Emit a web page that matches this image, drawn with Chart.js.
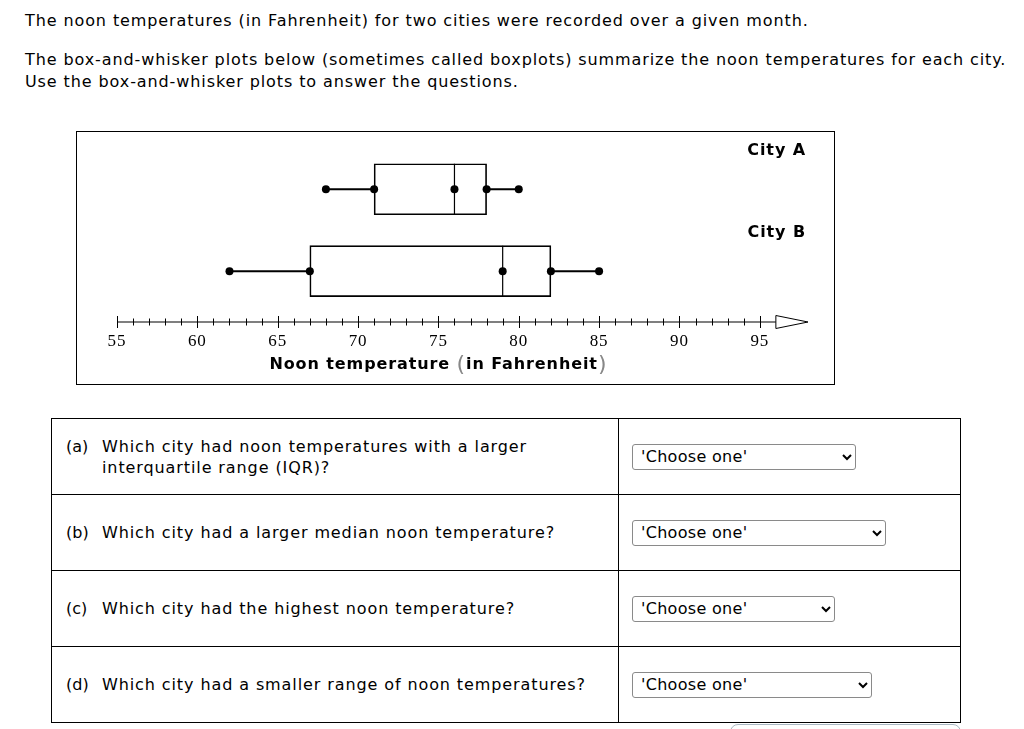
<!DOCTYPE html>
<html>
<head>
<meta charset="utf-8">
<script src="https://cdn.jsdelivr.net/npm/chart.js@4.4.1/dist/chart.umd.min.js"></script>
<style>
  body { margin: 0; background: #fff; color: #000; font-family: "DejaVu Sans", Verdana, sans-serif; font-size: 16px; letter-spacing: 0.9px; width: 1024px; height: 729px; position: relative; overflow: hidden; }
  .p { position: absolute; left: 25px; margin: 0; line-height: 22px; white-space: nowrap; }
  #box { position: absolute; left: 76px; top: 131px; width: 757px; height: 252px; border: 1px solid #000; }
  #box canvas { display: block; }
  table { position: absolute; left: 51px; top: 418px; border-collapse: collapse; width: 910px; }
  td { border: 1px solid #000; height: 75px; padding: 0; vertical-align: middle; }
  td.q { width: 552px; padding-left: 14px; line-height: 21px; white-space: nowrap; }
  td.a { padding-left: 13px; }
  .row { display: flex; }
  .row span.lab { width: 36px; flex: none; letter-spacing: 0; }
  select { font-family: "DejaVu Sans", Verdana, sans-serif; font-size: 16px; letter-spacing: 0.3px; height: 26px; border: 1px solid #8a8a8a; border-radius: 3px; background: #fff; color: #000; padding: 0 4px; display: block; }
  #btn { position: absolute; left: 730px; top: 724px; width: 229px; height: 30px; border: 1px solid #a9b8c2; border-radius: 8px; }
</style>
</head>
<body>
<p class="p" style="top:10px">The noon temperatures (in Fahrenheit) for two cities were recorded over a given month.</p>
<p class="p" style="top:49px">The box-and-whisker plots below (sometimes called boxplots) summarize the noon temperatures for each city.</p>
<p class="p" style="top:71px">Use the box-and-whisker plots to answer the questions.</p>

<div id="box"><canvas id="myChart" width="757" height="252"></canvas></div>

<table>
  <tr><td class="q"><div class="row"><span class="lab">(a)</span><span>Which city had noon temperatures with a larger<br>interquartile range (IQR)?</span></div></td>
      <td class="a"><select style="width:224px"><option>'Choose one'</option></select></td></tr>
  <tr><td class="q"><div class="row"><span class="lab">(b)</span><span>Which city had a larger median noon temperature?</span></div></td>
      <td class="a"><select style="width:254px"><option>'Choose one'</option></select></td></tr>
  <tr><td class="q"><div class="row"><span class="lab">(c)</span><span>Which city had the highest noon temperature?</span></div></td>
      <td class="a"><select style="width:203px"><option>'Choose one'</option></select></td></tr>
  <tr><td class="q"><div class="row"><span class="lab">(d)</span><span>Which city had a smaller range of noon temperatures?</span></div></td>
      <td class="a"><select style="width:240px"><option>'Choose one'</option></select></td></tr>
</table>
<div id="btn"></div>

<script>
// five number summaries
const cities = ['City A', 'City B'];
const cityPos = [2, 1];
const minVals = [68, 62];
const q1Vals = [71, 67];
const medianVals = [76, 79];
const q3Vals = [78, 82];
const maxVals = [80, 85];

const tickLabels = [55, 60, 65, 70, 75, 80, 85, 90, 95];
const axisMin = 55, axisMax = 98, arrowStart = 96;
const titleParts = ['Noon temperature ', '(', 'in Fahrenheit', ')'];

let ctx = document.getElementById('myChart');

// boxes as floating bars
const boxData = cities.map((c, i) => ({ x: [q1Vals[i], q3Vals[i]], y: cityPos[i] }));

// whiskers, one segment on each side
const whiskerSets = [];
cities.forEach((c, i) => {
  whiskerSets.push([{ x: minVals[i], y: cityPos[i] }, { x: q1Vals[i], y: cityPos[i] }]);
  whiskerSets.push([{ x: q3Vals[i], y: cityPos[i] }, { x: maxVals[i], y: cityPos[i] }]);
});

// dots at all five values
const dotData = [];
cities.forEach((c, i) => {
  [minVals[i], q1Vals[i], medianVals[i], q3Vals[i], maxVals[i]].forEach(v => dotData.push({ x: v, y: cityPos[i] }));
});

const boxExtras = {
  id: 'boxExtras',
  afterDatasetsDraw(chart) {
    const c = chart.ctx, xs = chart.scales.x, ys = chart.scales.y;
    c.save();
    c.strokeStyle = '#000';
    c.lineWidth = 1.2;
    cities.forEach((name, i) => {
      const x = xs.getPixelForValue(medianVals[i]);
      const y = ys.getPixelForValue(cityPos[i]);
      c.beginPath();
      c.moveTo(x, y - 25.5);
      c.lineTo(x, y + 25.5);
      c.stroke();
    });
    c.restore();
  },
  afterDraw(chart) {
    const c = chart.ctx, xs = chart.scales.x, ys = chart.scales.y;
    const y0 = chart.chartArea.bottom;
    c.save();
    c.strokeStyle = '#000';
    c.lineWidth = 1.2;
    // number line
    c.beginPath();
    c.moveTo(xs.getPixelForValue(axisMin), y0);
    c.lineTo(xs.getPixelForValue(arrowStart), y0);
    c.stroke();
    c.lineWidth = 1;
    for (let v = axisMin; v < arrowStart; v++) {
      const x = Math.round(xs.getPixelForValue(v)) + 0.5;
      const len = v % 5 === 0 ? 6 : 3.5;
      c.beginPath();
      c.moveTo(x, y0 - len);
      c.lineTo(x, y0 + len);
      c.stroke();
    }
    // open arrow head
    c.beginPath();
    c.moveTo(xs.getPixelForValue(arrowStart), y0 - 6.5);
    c.lineTo(xs.getPixelForValue(axisMax), y0);
    c.lineTo(xs.getPixelForValue(arrowStart), y0 + 6.5);
    c.closePath();
    c.fillStyle = '#fff';
    c.fill();
    c.stroke();

    // city names
    c.letterSpacing = '0.9px';
    c.fillStyle = '#000';
    c.font = 'bold 16px "DejaVu Sans"';
    c.textAlign = 'right';
    c.textBaseline = 'middle';
    cities.forEach((name, i) => {
      c.fillText(name, chart.chartArea.right - 2, ys.getPixelForValue(cityPos[i]) - 38);
    });

    // axis title, parentheses lighter and bigger
    const fonts = ['bold 16px "DejaVu Sans"', '22px "DejaVu Sans"', 'bold 16px "DejaVu Sans"', '22px "DejaVu Sans"'];
    const colors = ['#000', '#888', '#000', '#888'];
    let total = 0;
    const widths = titleParts.map((t, k) => { c.font = fonts[k]; const w = c.measureText(t).width; total += w; return w; });
    let x = xs.getPixelForValue(75) - total / 2;
    const ty = y0 + 43;
    c.textAlign = 'left';
    c.textBaseline = 'middle';
    titleParts.forEach((t, k) => {
      c.font = fonts[k];
      c.fillStyle = colors[k];
      c.fillText(t, x, ty);
      x += widths[k];
    });
    c.restore();
  }
};

let myChart = new Chart(ctx, {
  type: 'scatter',
  data: {
    datasets: [
      {
        type: 'scatter',
        label: 'values',
        data: dotData,
        pointRadius: 4,
        pointBackgroundColor: '#000',
        pointBorderWidth: 0,
        order: 0
      },
      ...whiskerSets.map(d => ({
        type: 'line',
        data: d,
        borderColor: '#000',
        borderWidth: 2,
        pointRadius: 0,
        fill: false,
        order: 1
      })),
      {
        type: 'bar',
        label: 'boxes',
        indexAxis: 'y',
        data: boxData,
        barThickness: 51,
        borderWidth: 1,
        borderColor: '#000',
        backgroundColor: 'rgba(0,0,0,0)',
        borderSkipped: false,
        order: 2
      }
    ]
  },
  options: {
    responsive: false,
    animation: false,
    events: [],
    layout: { padding: { left: 40, right: 26, top: 0, bottom: 0 } },
    plugins: { legend: { display: false }, tooltip: { enabled: false } },
    scales: {
      x: {
        type: 'linear',
        min: axisMin,
        max: axisMax,
        offset: false,
        afterFit(scale) { scale.height = 62; },
        grid: { display: false, drawTicks: false },
        border: { display: false },
        ticks: {
          stepSize: 5,
          autoSkip: false,
          maxRotation: 0,
          padding: 9,
          color: '#000',
          font: { family: 'Liberation Serif', size: 17 },
          callback: v => tickLabels.includes(v) ? v : ''
        }
      },
      y: {
        type: 'linear',
        display: false,
        offset: false,
        min: 0.38,
        max: 2.65
      }
    }
  },
  plugins: [boxExtras]
});
</script>
</body>
</html>
